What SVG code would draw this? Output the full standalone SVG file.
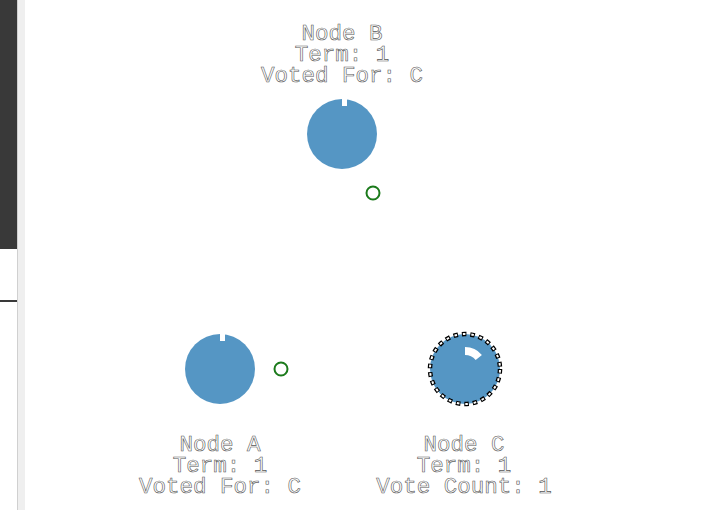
<svg xmlns="http://www.w3.org/2000/svg" width="708" height="510" viewBox="0 0 708 510">
<style>
.lbl{font-family:"Liberation Mono","Courier New",monospace;font-size:22.5px;fill:#fff;stroke:#555;stroke-width:0.6;text-anchor:middle}
.body{fill:#5596c4}
.ring{fill:#fff;stroke:#1b7a1b;stroke-width:2}
</style>
<rect width="708" height="510" fill="#fff"/>
<g id="sidebar">
<rect x="0" y="0" width="17" height="249" fill="#393939"/>
<rect x="0" y="300" width="17" height="2" fill="#393939"/>
<rect x="17" y="0" width="8" height="510" fill="#efefef"/>
<rect x="17" y="0" width="1" height="510" fill="#d0d0d0"/>
</g>
<g id="connectors">
<circle class="ring" cx="373" cy="193" r="6.5"/>
<circle class="ring" cx="281" cy="369" r="6.5"/>
</g>
<g id="nodeB">
<text class="lbl" x="342" y="40">Node B</text>
<text class="lbl" x="342" y="61">Term: 1</text>
<text class="lbl" x="342" y="82">Voted For: C</text>
<circle class="body" cx="342" cy="134" r="35"/>
<rect x="342" y="98" width="5" height="8" fill="#fff"/>
</g>
<g id="nodeA">
<circle class="body" cx="220" cy="369" r="35"/>
<rect x="220" y="333" width="5" height="8" fill="#fff"/>
<text class="lbl" x="220" y="451">Node A</text>
<text class="lbl" x="220" y="472">Term: 1</text>
<text class="lbl" x="220" y="493">Voted For: C</text>
</g>
<g id="nodeC">
<circle class="body" cx="465" cy="369" r="35"/>
<circle cx="465" cy="369" r="35" fill="none" stroke="#000" stroke-width="4.5" stroke-dasharray="4.6 3.9"/>
<circle cx="465" cy="369" r="35" fill="none" stroke="#fff" stroke-width="2" stroke-dasharray="2.6 5.9" stroke-dashoffset="-1"/>
<path d="M465,347 A22,22 0 0 1 481.9,354.9 L475.7,360.0 A14,14 0 0 0 465,355 Z" fill="#fff"/>
<text class="lbl" x="464" y="451">Node C</text>
<text class="lbl" x="464" y="472">Term: 1</text>
<text class="lbl" x="464" y="493">Vote Count: 1</text>
</g>
</svg>
